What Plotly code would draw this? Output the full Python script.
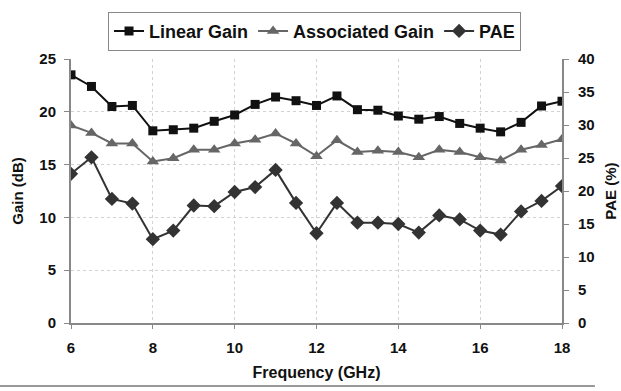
import plotly.graph_objects as go

freq = [6, 6.5, 7, 7.5, 8, 8.5, 9, 9.5, 10, 10.5, 11, 11.5, 12, 12.5, 13, 13.5,
        14, 14.5, 15, 15.5, 16, 16.5, 17, 17.5, 18]
linear_gain = [23.5, 22.4, 20.5, 20.6, 18.2, 18.3, 18.45, 19.1, 19.7, 20.7, 21.4, 21.05, 20.6,
               21.5, 20.2, 20.15, 19.6, 19.3, 19.55, 18.9, 18.45, 18.1, 19.0, 20.55, 21.0]
assoc_gain = [18.7, 18.0, 17.0, 17.0, 15.3, 15.6, 16.4, 16.4, 17.0, 17.35, 17.95, 17.0, 15.8,
              17.3, 16.2, 16.3, 16.2, 15.7, 16.4, 16.2, 15.7, 15.4, 16.4, 16.85, 17.4]
pae = [22.6, 25.1, 18.8, 18.1, 12.7, 14.0, 17.8, 17.7, 19.85, 20.6, 23.2, 18.2, 13.6,
       18.2, 15.2, 15.2, 15.0, 13.7, 16.3, 15.7, 14.0, 13.4, 16.9, 18.5, 20.75]

x_ticks = [6, 8, 10, 12, 14, 16, 18]
gain_ticks = [0, 5, 10, 15, 20, 25]
pae_ticks = [0, 5, 10, 15, 20, 25, 30, 35, 40]

FONT = "Liberation Sans"

fig = go.Figure()
fig.add_trace(go.Scatter(x=freq, y=linear_gain, name="<b>Linear Gain</b>", mode="lines+markers",
                         line=dict(color="#111111", width=2),
                         marker=dict(symbol="square", size=9, color="#111111")))
fig.add_trace(go.Scatter(x=freq, y=assoc_gain, name="<b>Associated Gain</b>", mode="lines+markers",
                         line=dict(color="#666666", width=2),
                         marker=dict(symbol="triangle-up", size=11, color="#666666")))
fig.add_trace(go.Scatter(x=freq, y=pae, name="<b>PAE</b>", mode="lines+markers", yaxis="y2",
                         line=dict(color="#333333", width=2),
                         marker=dict(symbol="diamond", size=11, color="#333333")))

fig.update_layout(
    width=621, height=391,
    margin=dict(l=71, r=59, t=55, b=68),
    paper_bgcolor="white", plot_bgcolor="white",
    font=dict(family=FONT, color="#111111"),
    showlegend=True,
    legend=dict(orientation="h", x=0.0754, y=1.179, xanchor="left", yanchor="top",
                bordercolor="#888888", borderwidth=1, font=dict(size=18, family=FONT),
                itemwidth=30, tracegroupgap=0),
    xaxis=dict(range=[6, 18], tickvals=x_ticks, ticktext=[f"<b>{t}</b>" for t in x_ticks],
               showgrid=True, gridcolor="#d2d2d2", griddash="dot", gridwidth=1,
               showline=True, linecolor="#888888", linewidth=2, automargin=False,
               ticks="outside", ticklen=4, tickcolor="#888888", ticklabelstandoff=6,
               tickfont=dict(size=15, family=FONT), zeroline=False,
               title=dict(text="<b>Frequency (GHz)</b>", font=dict(size=16, family=FONT), standoff=12)),
    yaxis=dict(range=[0, 25], tickvals=gain_ticks, ticktext=[f"<b>{t}</b>" for t in gain_ticks],
               showgrid=True, gridcolor="#d2d2d2", griddash="dot", gridwidth=1,
               showline=True, linecolor="#888888", linewidth=2, automargin=False,
               ticks="outside", ticklen=5, tickcolor="#888888", ticklabelstandoff=5,
               tickfont=dict(size=15, family=FONT), zeroline=False,
               title=dict(text="<b>Gain (dB)</b>", font=dict(size=15, family=FONT), standoff=12)),
    yaxis2=dict(range=[0, 40], tickvals=pae_ticks, ticktext=[f"<b>{t}</b>" for t in pae_ticks],
                overlaying="y", side="right", showgrid=False,
                showline=True, linecolor="#888888", linewidth=2, automargin=False,
                ticks="outside", ticklen=5, tickcolor="#888888", ticklabelstandoff=6,
                tickfont=dict(size=15, family=FONT), zeroline=False,
                title=dict(text="<b>PAE (%)</b>", font=dict(size=15, family=FONT), standoff=12)),
)

fig.add_shape(type="line", xref="paper", yref="paper", x0=-0.1446, x1=1.067, y0=-0.239, y1=-0.239,
              line=dict(color="#999999", width=2))

fig.write_html("out.html", config={"displayModeBar": False},
               post_script="document.body.style.margin='0';")
